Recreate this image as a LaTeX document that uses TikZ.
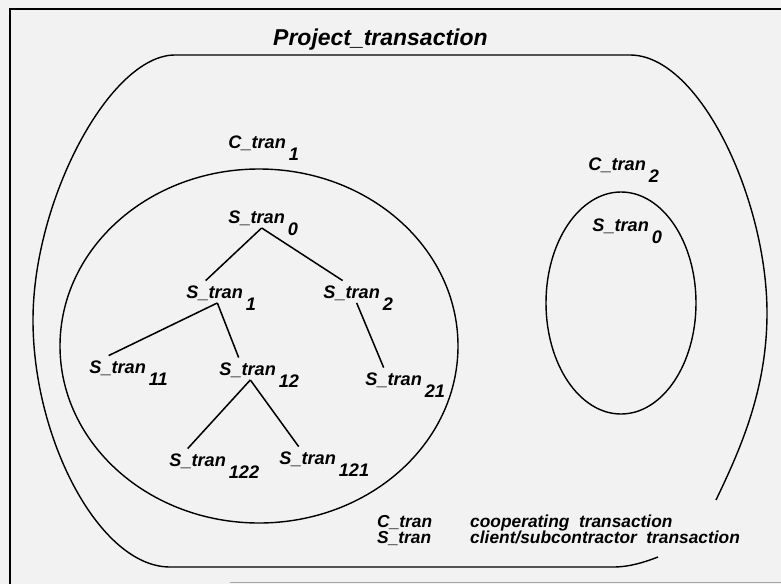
\documentclass[tikz,border=0pt]{standalone}
\usepackage{fontspec}
\setmainfont{Liberation Sans}
\usetikzlibrary{calc}

% transaction name with a dropped index that does not widen the node
\newcommand\trn[2]{#1\_tran\rlap{\hspace{2.5pt}\smash{\raisebox{-0.7em}{#2}}}}

\begin{document}
\begin{tikzpicture}[x=0.03cm,y=-0.03cm,
  lbl/.style={anchor=base west,inner sep=1pt,font=\fontsize{15.5}{18}\selectfont\bfseries\itshape},
  legend/.style={anchor=base west,inner sep=0pt,font=\fontsize{14.8}{17}\selectfont\bfseries\itshape},
  ttl/.style={anchor=base west,inner sep=0pt,font=\fontsize{19.6}{23}\selectfont\bfseries\itshape},
  curve/.style={line width=1.2pt},
  edge/.style={line width=1.3pt},
  frame/.style={line width=2.2pt}]
\useasboundingbox (0,0) rectangle (781,584);
\fill[white!95!black] (0,0) rectangle (781,584);

% frame
\draw[frame] (781,9) -- (10,9) -- (10,584);
\draw[gray!70,line width=1pt] (230,582.5) -- (781,582.5);

% project boundary (open at the lower right)
\draw[curve] (658,557) .. controls (645,562) and (630,567) .. (613,567)
  -- (170,567)
  .. controls (100,567) and (33,440) .. (33,320)
  .. controls (33,200) and (110,55) .. (175,55)
  -- (630,55)
  .. controls (700,55) and (767,200) .. (767,313)
  .. controls (767,390) and (740,450) .. (716,500);

% cooperating transactions
\draw[curve] (259,346) ellipse [x radius=199, y radius=177];
\draw[curve] (621,303) ellipse [x radius=75, y radius=111];

% labels
\node[ttl] (title) at (273,45) {Project\_transaction};
\node[lbl] (c1) at (227,148) {\trn{C}{1}};
\node[lbl] (c2) at (587,170) {\trn{C}{2}};
\node[lbl] (z0) at (591,231) {\trn{S}{0}};

\node[lbl] (s0) at (227,223) {\trn{S}{0}};
\node[lbl] (s1) at (185,298) {\trn{S}{1}};
\node[lbl] (s2) at (322,298) {\trn{S}{2}};
\node[lbl] (s11) at (88,373) {\trn{S}{11}};
\node[lbl] (s12) at (218,375) {\trn{S}{12}};
\node[lbl] (s21) at (364,385) {\trn{S}{21}};
\node[lbl] (s122) at (168,466) {\trn{S}{122}};
\node[lbl] (s121) at (278,464) {\trn{S}{121}};

% tree edges
\draw[edge] ([xshift=0.15cm,yshift=-0.04cm]s0.south) -- ([xshift=-0.27cm,yshift=0.1cm]s1.north);
\draw[edge] ([xshift=0.15cm,yshift=-0.04cm]s0.south) -- ([xshift=-0.27cm,yshift=0.1cm]s2.north);
\draw[edge] ([xshift=0.08cm,yshift=-0.04cm]s1.south) -- ([xshift=-0.27cm,yshift=0.1cm]s11.north);
\draw[edge] ([xshift=0.08cm,yshift=-0.04cm]s1.south) -- ([xshift=-0.27cm,yshift=0.1cm]s12.north);
\draw[edge] ([xshift=0.15cm,yshift=-0.04cm]s2.south) -- ([xshift=-0.3cm,yshift=0.1cm]s21.north);
\draw[edge] ([xshift=0.08cm,yshift=-0.04cm]s12.south) -- ([xshift=-0.3cm,yshift=0.1cm]s122.north);
\draw[edge] ([xshift=0.08cm,yshift=-0.04cm]s12.south) -- ([xshift=-0.27cm,yshift=0.1cm]s121.north);

% legend
\node[legend] (kc) at (377,527) {C\_tran};
\node[legend] (ks) at (377,543) {S\_tran};
\node[legend] (dc) at (470,527) {cooperating\hspace{0.55em}transaction};
\node[legend] (ds) at (470,543) {client/subcontractor\hspace{0.55em}transaction};
\end{tikzpicture}
\end{document}
